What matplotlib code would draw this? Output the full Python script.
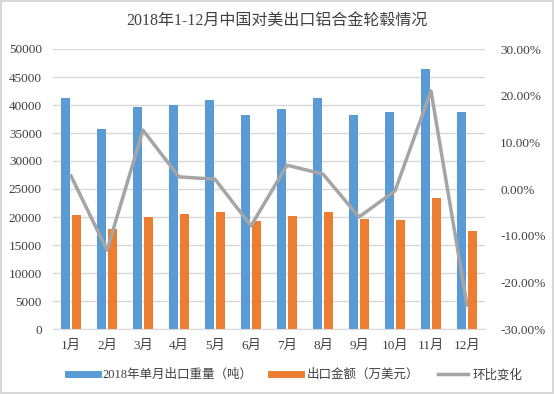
import matplotlib.pyplot as plt
from matplotlib.lines import Line2D
import numpy as np

plt.rcParams['font.family'] = ['Liberation Serif', 'Noto Sans CJK SC', 'DejaVu Sans']

months = ['1月', '2月', '3月', '4月', '5月', '6月', '7月', '8月', '9月', '10月', '11月', '12月']
weight = [41200, 35700, 39600, 40000, 40900, 38200, 39200, 41200, 38200, 38700, 46400, 38700]
amount = [20300, 17800, 20000, 20500, 20900, 19200, 20100, 20900, 19600, 19400, 23400, 17500]
mom = [2.8, -13.1, 12.6, 2.6, 2.1, -7.9, 5.1, 3.2, -6.0, -0.4, 21.0, -24.9]

blue = '#5B9BD5'
orange = '#ED7D31'
grey = '#A5A5A5'

fig = plt.figure(figsize=(5.54, 3.94), dpi=100)
fig.patch.set_edgecolor('#D9D9D9')
fig.patch.set_linewidth(1.5)
ax = fig.add_axes([53/554, 1 - 329/394, (485-53)/554, (329-49)/394])

x = np.arange(len(months))
w = 0.25
ax.bar(x - 0.15, weight, w, color=blue, zorder=2)
ax.bar(x + 0.15, amount, w, color=orange, zorder=2)
ax.set_xlim(-0.5, 11.5)
ax.set_ylim(0, 50000)
ax.set_yticks(range(0, 50001, 5000))
ax.set_xticks(x)
ax.set_xticklabels(months)
ax.yaxis.grid(True, color='#D9D9D9', lw=1)
ax.set_axisbelow(True)
for s in ['top', 'right', 'left']:
    ax.spines[s].set_visible(False)
ax.spines['bottom'].set_color('#D9D9D9')
ax.tick_params(length=0, labelsize=9.5, colors='#404040')
ax.tick_params(axis='y', pad=8)
ax.tick_params(axis='x', pad=8)

ax2 = ax.twinx()
ax2.plot(x, mom, color=grey, lw=2.5, zorder=3)
ax2.set_ylim(-30, 30)
ax2.set_yticks(range(-30, 31, 10))
ax2.set_yticklabels([f'{v:.2f}%' for v in range(-30, 31, 10)])
for s in ax2.spines.values():
    s.set_visible(False)
ax2.tick_params(length=0, labelsize=9.5, colors='#404040', pad=11)

fig.text(0.5, 1 - 22/394, '2018年1-12月中国对美出口铝合金轮毂情况', ha='center', va='center',
         fontsize=11.5, color='#404040')

handles = [Line2D([], [], color=blue, lw=5),
           Line2D([], [], color=orange, lw=5),
           Line2D([], [], color=grey, lw=2.5)]
labels = ['2018年单月出口重量（吨）', '出口金额（万美元）', '环比变化']
fig.legend(handles, labels, loc='center', bbox_to_anchor=(295/554, 1 - 375/394), ncol=3,
           frameon=False, fontsize=9, handlelength=2.4, columnspacing=1.5, handletextpad=0.4,
           labelcolor='#404040')

fig.savefig('out.png')
